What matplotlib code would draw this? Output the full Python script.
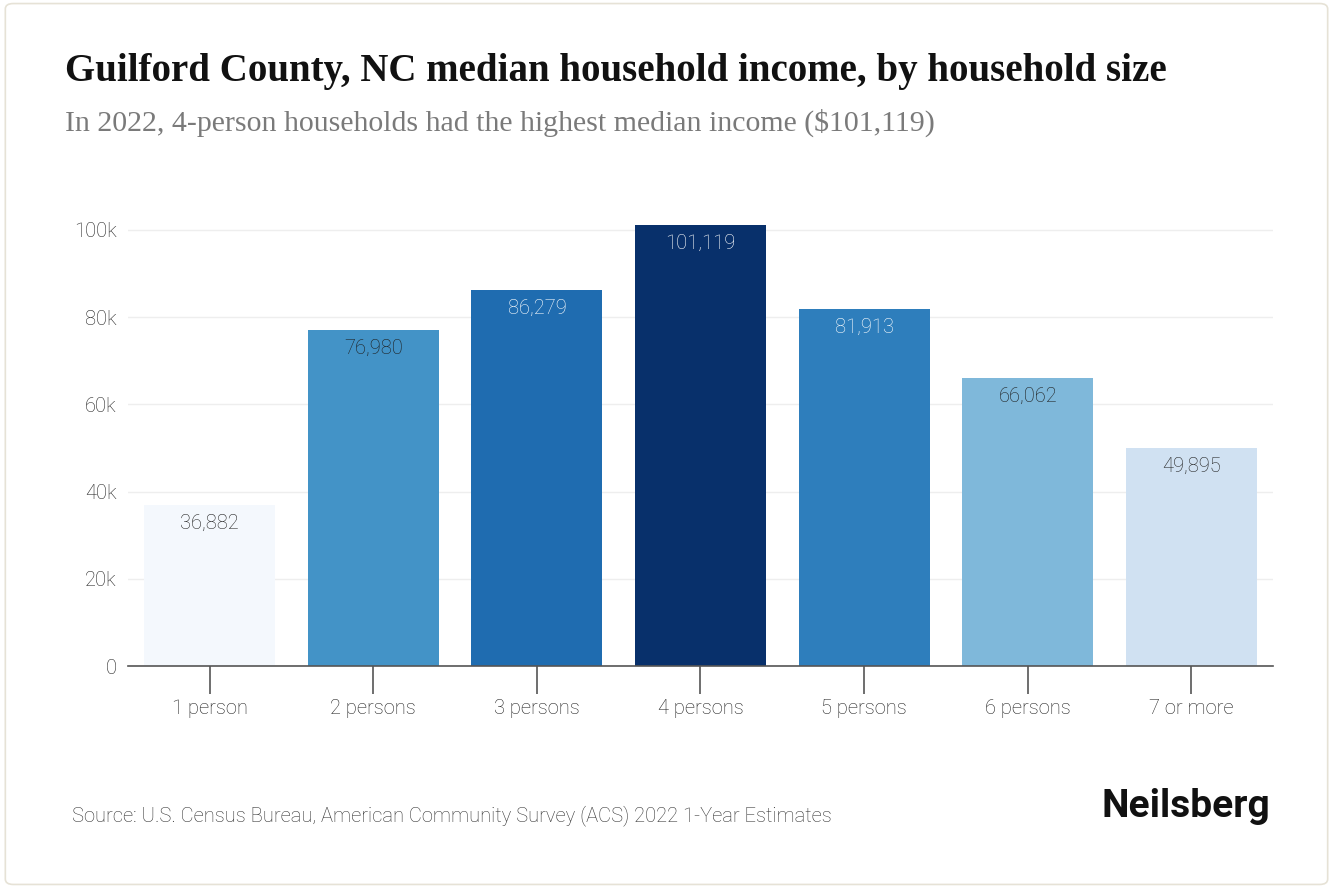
import matplotlib.pyplot as plt
from matplotlib.patches import FancyBboxPatch

# Median household income by household size
sizes = ['1 person', '2 persons', '3 persons', '4 persons', '5 persons', '6 persons', '7 or more']
income = [36882, 76980, 86279, 101119, 81913, 66062, 49895]
bar_colors = ['#f4f8fd', '#4393c7', '#1f6cb0', '#08306b', '#2e7ebc', '#7fb8da', '#d0e1f2']
label_colors = ['#222222', '#1e1e1e', 'white', 'white', 'white', '#1e1e1e', '#222222']
y_ticks = [0, 20000, 40000, 60000, 80000, 100000]
y_tick_labels = ['0', '20k', '40k', '60k', '80k', '100k']

plt.rcParams['font.family'] = ['Roboto', 'DejaVu Sans']

fig = plt.figure(figsize=(13.33, 8.88), dpi=100)
fig.patch.set_facecolor('white')

# light rounded frame around the card
frame = FancyBboxPatch((0.004, 0.004), 0.992, 0.992,
                       boxstyle='round,pad=0,rounding_size=0.006',
                       transform=fig.transFigure, fill=False,
                       ec='#e6e2d6', lw=1.2)
fig.patches.append(frame)

ax = fig.add_axes([0.096, 0.25, 0.859, 0.501])

x = range(len(sizes))
bars = ax.bar(x, income, width=0.8, color=bar_colors, zorder=2)

for i, b in enumerate(bars):
    ax.text(b.get_x() + b.get_width() / 2, income[i] - 2000,
            f'{income[i]:,}', ha='center', va='top',
            fontsize=14.5, fontweight='light', color=label_colors[i], zorder=3)

ax.set_xlim(-0.5, 6.5)
ax.set_ylim(0, 102000)
ax.set_yticks(y_ticks)
ax.set_yticklabels(y_tick_labels)
ax.set_xticks(list(x))
ax.set_xticklabels(sizes)

ax.grid(axis='y', color='#eeeeee', lw=1, zorder=0)
for s in ['top', 'right', 'left']:
    ax.spines[s].set_visible(False)
ax.spines['bottom'].set_color('#555555')
ax.spines['bottom'].set_linewidth(1.2)
ax.spines['bottom'].set_zorder(4)

ax.tick_params(axis='y', length=0, pad=8, labelsize=14.5, labelcolor='#222222')
ax.tick_params(axis='x', length=20, width=1.2, color='#555555', pad=4,
               labelsize=14.5, labelcolor='#222222')
for lbl in ax.get_xticklabels() + ax.get_yticklabels():
    lbl.set_fontweight('light')

fig.text(0.049, 0.919, 'Guilford County, NC median household income, by household size',
         fontsize=28, fontweight='bold', family=['Liberation Serif', 'DejaVu Serif'],
         color='#111111', va='center')
fig.text(0.049, 0.862, 'In 2022, 4-person households had the highest median income ($101,119)',
         fontsize=21.5, family=['Liberation Serif', 'DejaVu Serif'],
         color='#7a7a7a', va='center')

fig.text(0.054, 0.082,
         'Source: U.S. Census Bureau, American Community Survey (ACS) 2022 1-Year Estimates',
         fontsize=14.5, fontweight='light', color='#333333', va='center')
fig.text(0.953, 0.092, 'Neilsberg', fontsize=28, fontweight='bold',
         color='#111111', ha='right', va='center')

plt.savefig('out.png', dpi=100)
